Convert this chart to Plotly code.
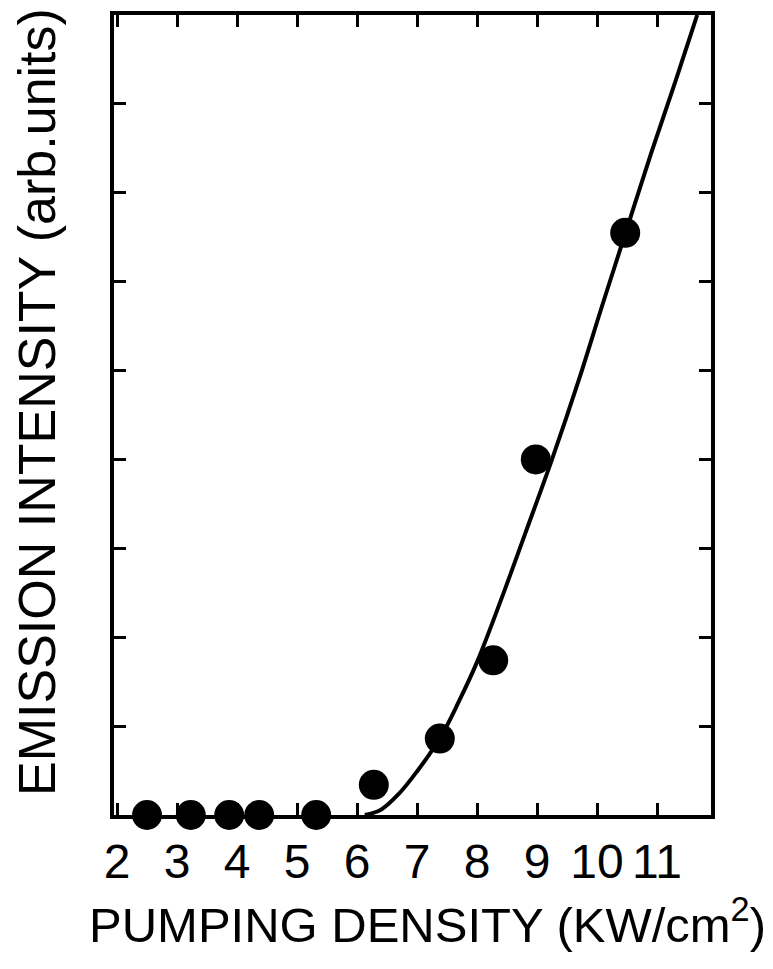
import plotly.graph_objects as go

# Measured emission intensity vs. pumping density
pump_density = [2.5, 3.23, 3.87, 4.37, 5.32, 6.28, 7.38, 8.27, 8.98, 10.47]
intensity = [0.0, 0.0, 0.0, 0.0, 0.0, 0.34, 0.86, 1.74, 4.0, 6.55]

# Guide curve through the lasing threshold region
curve_x = [6.13, 6.4, 6.7, 7.0, 7.38, 7.7, 8.0, 8.4, 8.8, 9.25, 9.7, 10.1, 10.5, 10.9, 11.3, 11.67]
curve_y = [0.0, 0.06, 0.24, 0.49, 0.86, 1.28, 1.72, 2.42, 3.16, 4.0, 4.9, 5.76, 6.6, 7.44, 8.24, 9.0]

x_ticks = [2, 3, 4, 5, 6, 7, 8, 9, 10, 11]
y_ticks = [1, 2, 3, 4, 5, 6, 7, 8]

FONT = "Liberation Sans, Arial, sans-serif"

fig = go.Figure()
fig.add_trace(go.Scatter(
    x=curve_x, y=curve_y, mode="lines",
    line=dict(color="black", width=4, shape="spline", smoothing=1.0),
    hoverinfo="skip", showlegend=False,
))
fig.add_trace(go.Scatter(
    x=pump_density, y=intensity, mode="markers",
    marker=dict(color="black", size=30),
    showlegend=False, cliponaxis=False,
))

fig.update_layout(
    width=773, height=969,
    margin=dict(l=114, r=62, t=15, b=154),
    paper_bgcolor="white", plot_bgcolor="white",
    font=dict(family=FONT, color="black"),
    xaxis=dict(
        range=[1.95, 11.9], tickvals=x_ticks, ticktext=[str(v) for v in x_ticks],
        ticks="inside", ticklen=12, tickwidth=3, tickcolor="black",
        showline=True, linewidth=4, linecolor="black", mirror="ticks",
        showgrid=False, zeroline=False,
        tickfont=dict(size=48, family=FONT), ticklabelstandoff=1,
    ),
    yaxis=dict(
        range=[0, 9], tickvals=y_ticks, showticklabels=False,
        ticks="inside", ticklen=12, tickwidth=3, tickcolor="black",
        showline=True, linewidth=4, linecolor="black", mirror="ticks",
        showgrid=False, zeroline=False,
    ),
    annotations=[
        dict(text="PUMPING DENSITY (KW/cm<sup>2</sup>)", xref="paper", yref="paper",
             x=(427 - 114) / 597, y=-(921 - 815) / 800, xanchor="center", yanchor="middle",
             showarrow=False, font=dict(size=49, family=FONT)),
        dict(text="EMISSION INTENSITY (arb.units)", xref="paper", yref="paper",
             x=-(114 - 37) / 597, y=(815 - 402) / 800, xanchor="center", yanchor="middle",
             textangle=-90, showarrow=False, font=dict(size=52, family=FONT)),
    ],
)

fig.write_html("out.html")
